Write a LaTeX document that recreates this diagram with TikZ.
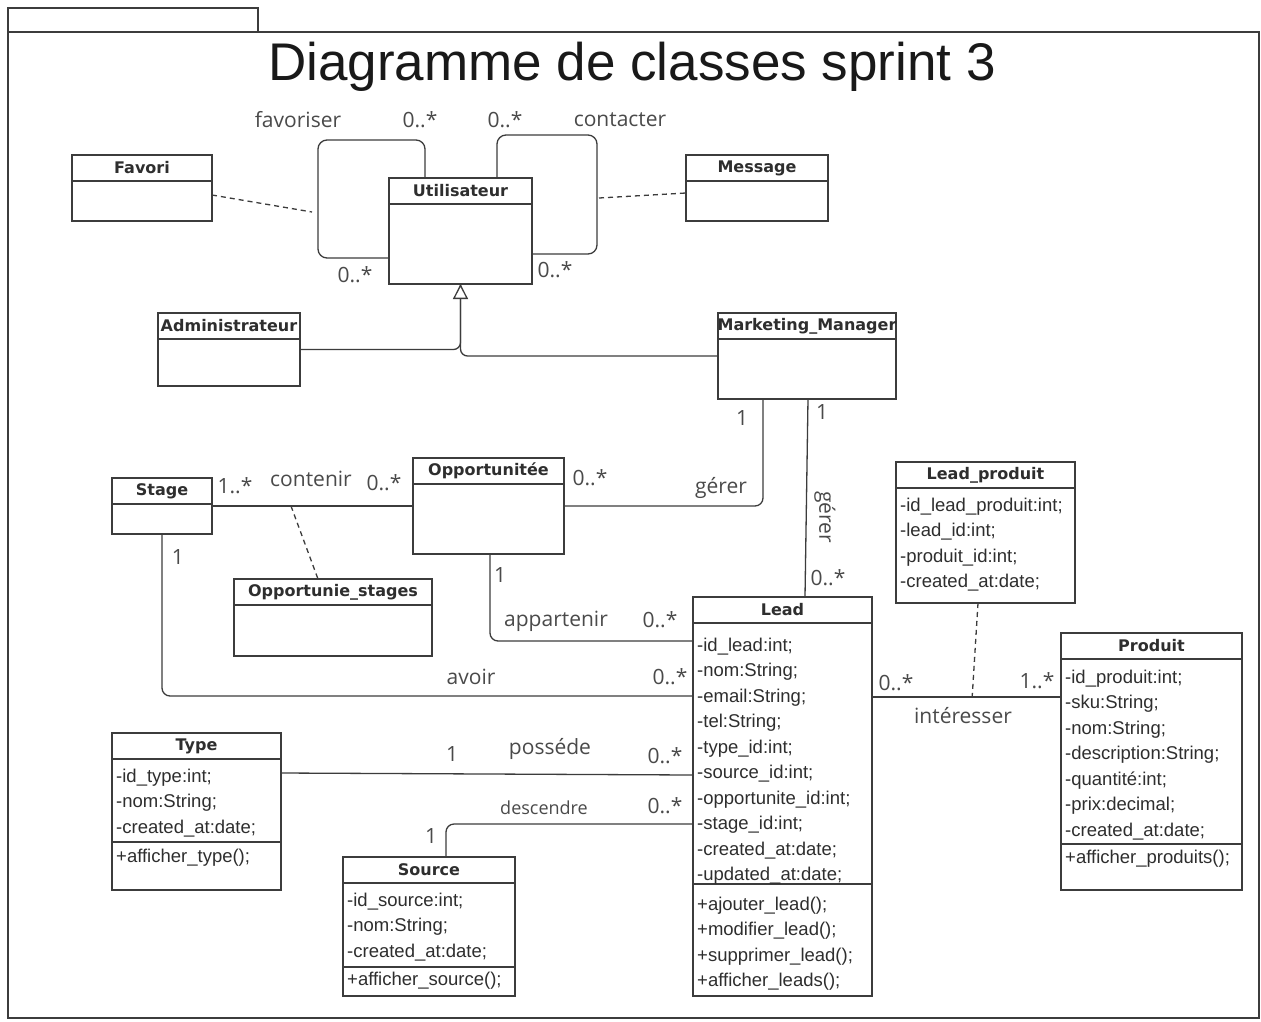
\documentclass[tikz,border=0pt]{standalone}
\usepackage{fontspec}
\setmainfont{Liberation Sans}
\newfontfamily\namefam{DejaVu Sans}
\newfontfamily\lblfam{Open Sans}
\usetikzlibrary{arrows.meta,calc}

\definecolor{linec}{HTML}{3C3C3C}
\definecolor{textc}{HTML}{2E2E2E}
\definecolor{lblc}{HTML}{4A4A4A}

\tikzset{
  classbox/.style={draw=linec, line width=1.3pt, inner sep=0pt, outer sep=0pt, anchor=north west},
  assoc/.style={draw=linec, line width=1.3pt},
  dashline/.style={draw=linec, line width=1.3pt, dash pattern=on 5pt off 4pt},
  classname/.style={font=\namefam\bfseries\fontsize{16}{18}\selectfont, text=textc, inner sep=0pt},
  member/.style={font=\fontsize{18.5}{20}\selectfont, text=textc, inner sep=0pt, anchor=base west},
  lbl/.style={font=\lblfam\fontsize{21}{24}\selectfont, text=lblc, inner sep=0pt},
  smalllbl/.style={font=\lblfam\fontsize{18}{20}\selectfont, text=lblc, inner sep=0pt},
}

% class box: name, x1, y1, x2, y2, title
\newcommand{\klass}[6]{%
  \node[classbox, minimum width={#4pt-#2pt}, minimum height={#5pt-#3pt}] (#1) at (#2,#3) {};
  \draw[assoc] ([yshift=-26pt]#1.north west) -- ([yshift=-26pt]#1.north east);
  \node[classname] (#1-title) at ([yshift=-13pt]#1.north) {#6};
}
% horizontal separator inside a class box, offset from its top
\newcommand{\klsep}[2]{%
  \draw[assoc] ([yshift=-#2pt]#1.north west) -- ([yshift=-#2pt]#1.north east);
}
% member lines: node, first baseline offset from top, list
\newcommand{\members}[3]{%
  \foreach \m [count=\i from 0] in {#3}
    \node[member] (#1-m#2-\i) at ([shift={(4pt,{-#2pt-\i*25.5pt})}]#1.north west) {\m};
}

\begin{document}
\begin{tikzpicture}[x=1pt,y=-1pt]
\useasboundingbox (0,0) rectangle (1261,1021);
\fill[white] (0,0) rectangle (1261,1021);

% package frame with tab
\draw[draw=linec, line width=1.1pt] (8,32) rectangle (1259,1018);
\draw[draw=linec, line width=1.1pt] (8,32) -- (8,8) -- (258,8) -- (258,32);
\node[font=\fontsize{53}{57}\selectfont, text=black!90, inner sep=0pt] (title) at (632,67) {Diagramme de classes sprint 3};

% classes
\klass{favori}{72}{155}{212}{221}{Favori}
\klass{util}{389}{178}{532}{284}{Utilisateur}
\klass{message}{686}{155}{828}{221}{Message}
\klass{admin}{158}{313}{300}{386}{Administrateur}
\klass{marketing}{718}{313}{896}{399}{Marketing\_Manager}
\klass{stage}{112}{478}{212}{534}{Stage}
\klass{opp}{413}{458}{564}{554}{Opportunitée}
\klass{oppst}{234}{579}{432}{656}{Opportunie\_stages}
\klass{lead}{693}{597}{872}{996}{Lead}
\klass{lp}{896}{462}{1075}{603}{Lead\_produit}
\klass{produit}{1061}{633}{1242}{890}{Produit}
\klass{type}{112}{733}{281}{890}{Type}
\klass{source}{343}{857}{515}{996}{Source}

\klsep{lead}{287}
\klsep{produit}{211}
\klsep{type}{109}
\klsep{source}{110}

\members{lead}{54}{{-id\_lead:int;},{-nom:String;},{-email:String;},{-tel:String;},{-type\_id:int;},{-source\_id:int;},{-opportunite\_id:int;},{-stage\_id:int;},{-created\_at:date;},{-updated\_at:date;}}
\members{lead}{313}{{+ajouter\_lead();},{+modifier\_lead();},{+supprimer\_lead();},{+afficher\_leads();}}
\members{produit}{50}{{-id\_produit:int;},{-sku:String;},{-nom:String;},{-description:String;},{-quantité:int;},{-prix:decimal;},{-created\_at:date;}}
\members{produit}{230}{{+afficher\_produits();}}
\members{lp}{49}{{-id\_lead\_produit:int;},{-lead\_id:int;},{-produit\_id:int;},{-created\_at:date;}}
\members{type}{49}{{-id\_type:int;},{-nom:String;},{-created\_at:date;}}
\members{type}{129}{{+afficher\_type();}}
\members{source}{49}{{-id\_source:int;},{-nom:String;},{-created\_at:date;}}
\members{source}{128}{{+afficher\_source();}}

% self associations on Utilisateur
\draw[assoc, rounded corners=9pt] ([yshift=-80pt]util.north west) -- (318,258) -- (318,140) -- (425,140) -- ([xshift=36pt]util.north west);
\draw[assoc, rounded corners=9pt] ([xshift=108pt]util.north west) -- (497,135) -- (597,135) -- (597,254) -- ([yshift=-76pt]util.north east);
\coordinate (favmid) at (312,212);
\coordinate (msgmid) at (599,198);
\draw[dashline] ([yshift=-40pt]favori.north east) -- (favmid);
\draw[dashline] (msgmid) -- ([yshift=-38pt]message.north west);

% generalization
\draw[assoc, rounded corners=7pt] (admin.east) -| (util.south);
\draw[assoc, rounded corners=7pt] (marketing.west) -| (util.south);
\draw[assoc, -{Triangle[length=15pt,width=15pt,fill=white]}] ([yshift=-24pt]util.south) -- (util.south);

% associations
\draw[assoc, rounded corners=8pt] ([xshift=45pt]marketing.south west) |- (opp.east);
\draw[assoc] ([xshift=90pt]marketing.south west) -- ([xshift=112pt]lead.north west);
\draw[assoc] (stage.east) -- (opp.west);
\coordinate (contmid) at ($(stage.east)!0.393!(opp.west)$);
\draw[dashline] (contmid) -- ([xshift=84pt]oppst.north west);
\draw[assoc, rounded corners=8pt] ([xshift=77pt]opp.south west) |- ([yshift=-44pt]lead.north west);
\draw[assoc, rounded corners=8pt] (stage.south) |- ([yshift=-99pt]lead.north west);
\draw[assoc] ([yshift=-100pt]lead.north east) -- ([yshift=-64pt]produit.north west);
\coordinate (intmid) at ($([yshift=-100pt]lead.north east)!0.53!([yshift=-64pt]produit.north west)$);
\draw[dashline] ([xshift=82pt]lp.south west) -- (intmid);
\draw[assoc] ([yshift=-40pt]type.north east) -- ([yshift=-178pt]lead.north west);
\draw[assoc, rounded corners=8pt] ([xshift=103pt]source.north west) |- ([yshift=-227pt]lead.north west);

% role names and multiplicities
\node[lbl] (l1) at (298,120) {favoriser};
\node[lbl] (l2) at (420,120) {0..*};
\node[lbl] (l3) at (505,120) {0..*};
\node[lbl] (l4) at (620,120) {contacter};
\node[lbl] (l5) at (355,275) {0..*};
\node[lbl] (l6) at (555,270) {0..*};
\node[lbl] (l7) at (742,418) {1};
\node[lbl] (l8) at (822,412) {1};
\node[lbl] (l9) at (590,478) {0..*};
\node[lbl] (l10) at (721,488) {gérer};
\node[lbl, rotate=-90] (l11) at (825,517) {gérer};
\node[lbl] (l12) at (828,578) {0..*};
\node[lbl] (l13) at (235,486) {1..*};
\node[lbl] (l14) at (311,479) {contenir};
\node[lbl] (l15) at (384,483) {0..*};
\node[lbl] (l16) at (178,557) {1};
\node[lbl] (l17) at (500,575) {1};
\node[lbl] (l18) at (556,621) {appartenir};
\node[lbl] (l19) at (660,620) {0..*};
\node[lbl] (l20) at (471,677) {avoir};
\node[lbl] (l21) at (670,677) {0..*};
\node[lbl] (l22) at (896,683) {0..*};
\node[lbl] (l23) at (1037,681) {1..*};
\node[lbl] (l24) at (963,716) {intéresser};
\node[lbl] (l25) at (452,754) {1};
\node[lbl] (l26) at (550,749) {posséde};
\node[lbl] (l27) at (665,756) {0..*};
\node[lbl] (l28) at (431,836) {1};
\node[smalllbl] (l29) at (544,808) {descendre};
\node[lbl] (l30) at (665,806) {0..*};
\end{tikzpicture}
\end{document}
